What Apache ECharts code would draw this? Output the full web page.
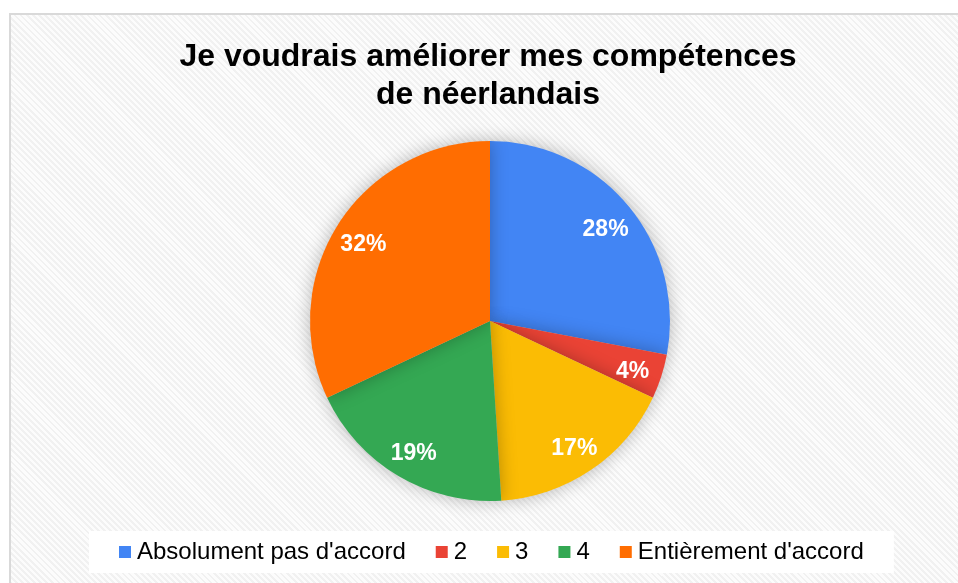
<!DOCTYPE html>
<html>
<head>
<meta charset="utf-8">
<script src="https://cdn.jsdelivr.net/npm/echarts@6/dist/echarts.min.js"></script>
<style>
  html, body { margin: 0; padding: 0; background: #fff; overflow: hidden; }
  #frame {
    position: absolute; left: 9px; top: 13px; width: 1000px; height: 600px;
    border-left: 2px solid #d9d9d9; border-top: 2px solid #d9d9d9;
    background: repeating-linear-gradient(45deg, #f1f1f1 0px, #f1f1f1 2px, #fcfcfc 2px, #fcfcfc 4.3px);
  }
  #chart { position: absolute; left: 0; top: 0; width: 958px; height: 583px; }
</style>
</head>
<body>
<div id="frame"></div>
<div id="chart"></div>
<script>
// données du sondage
const categories = ['Absolument pas d\'accord', '2', '3', '4', 'Entièrement d\'accord']
const values = [28, 4, 17, 19, 32]
const colors = ['#4285f4', '#ea4335', '#fbbc04', '#34a853', '#ff6d01']

const chart = echarts.init(document.getElementById('chart'))

const pieData = categories.map((name, i) => ({ name: name, value: values[i] }))

chart.setOption({
  backgroundColor: 'transparent',
  color: colors,
  animation: false,
  title: {
    text: 'Je voudrais améliorer mes compétences\nde néerlandais',
    left: 483,
    top: 33,
    textAlign: 'center',
    textStyle: {
      fontFamily: 'Liberation Sans, Arial, sans-serif',
      fontWeight: 'bold',
      fontSize: 32,
      lineHeight: 38,
      color: '#000'
    }
  },
  legend: {
    data: categories,
    left: 89,
    top: 531,
    orient: 'horizontal',
    backgroundColor: '#ffffff',
    padding: [9, 30, 9, 30],
    itemWidth: 12,
    itemHeight: 12,
    itemGap: 30,
    icon: 'rect',
    textStyle: {
      fontFamily: 'Liberation Sans, Arial, sans-serif',
      fontSize: 24,
      color: '#000',
      padding: [0, 0, 0, 1]
    }
  },
  series: [
    {
      // la tarte elle-même
      type: 'pie',
      center: [490, 321],
      radius: 180,
      startAngle: 90,
      clockwise: true,
      label: { show: false },
      labelLine: { show: false },
      itemStyle: {
        shadowBlur: 18,
        shadowColor: 'rgba(0,0,0,0.28)'
      },
      emphasis: { disabled: true },
      data: pieData
    },
    {
      // anneau transparent juste pour placer les pourcentages
      type: 'pie',
      center: [490, 325],
      radius: [114, 180],
      startAngle: 90,
      clockwise: true,
      silent: true,
      itemStyle: { color: 'transparent' },
      label: {
        show: true,
        position: 'inside',
        formatter: '{d}%',
        color: '#fff',
        fontFamily: 'Liberation Sans, Arial, sans-serif',
        fontWeight: 'bold',
        fontSize: 23
      },
      labelLine: { show: false },
      emphasis: { disabled: true },
      data: pieData
    }
  ]
})
</script>
</body>
</html>
